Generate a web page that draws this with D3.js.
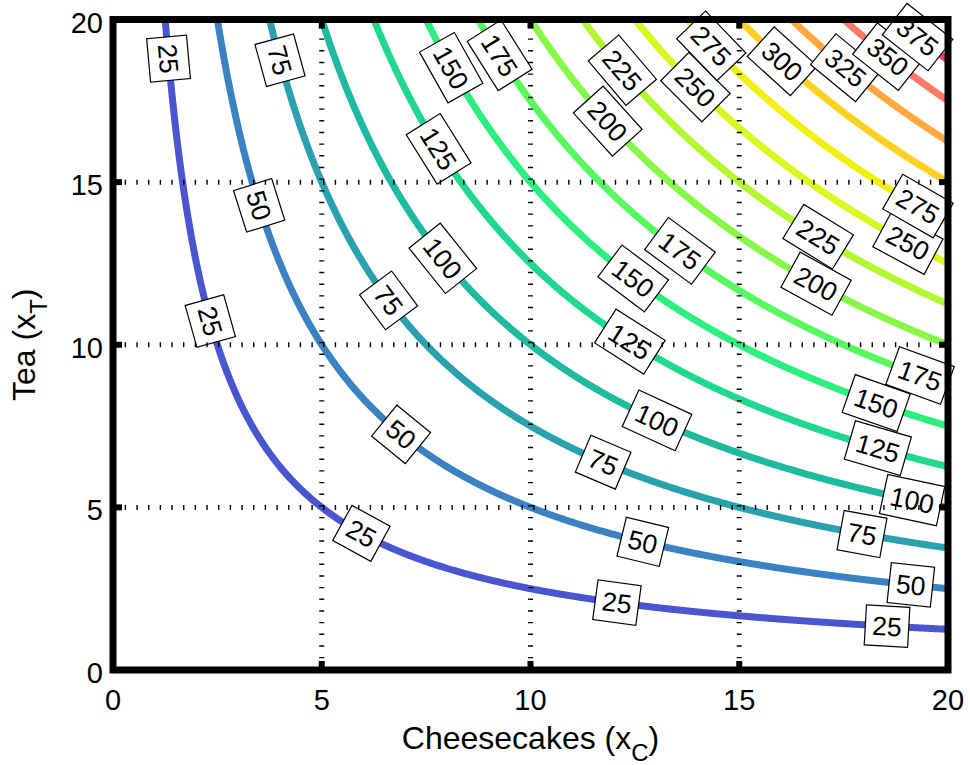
<!DOCTYPE html>
<html>
<head>
<meta charset="utf-8">
<script src="https://cdn.jsdelivr.net/npm/d3@7/dist/d3.min.js"></script>
<style>
    body { margin: 0; background: #fff; }
    text { font-family: "Liberation Sans", Arial, sans-serif; }
</style>
</head>
<body>
<div id="chart" style="width:970px;height:765px;"></div>
<script>

// contour levels of U = xC * xT and the colour of each line
const levels = [25, 50, 75, 100, 125, 150, 175, 200, 225, 250, 275, 300, 325, 350, 375];
const levelColors = ["#4a55d0", "#3a82c2", "#2aa2ae", "#1fbaa0", "#20d890", "#2cef80", "#58f860",
    "#88f848", "#b4f830", "#d8f820", "#f2f010", "#ffd020", "#ffa840", "#ff7868", "#ff3878"];

// x positions (cheesecakes) where each level carries a label
const labelSpots = [
    [1.33, 2.33, 5.95, 12.07, 18.54],
    [3.5, 6.9, 12.69, 19.11],
    [4.0, 6.6, 11.74, 17.94],
    [7.9, 13.03, 19.14],
    [7.8, 12.38, 18.32],
    [8.1, 12.46, 18.28],
    [9.26, 13.58, 19.33],
    [11.85, 16.84],
    [12.2, 16.89],
    [13.95, 19.04],
    [14.33, 19.28],
    [16.03],
    [17.55],
    [18.56],
    [19.27]
];

const xTicks = [0, 5, 10, 15, 20];
const yTicks = [0, 5, 10, 15, 20];
const gridTicks = [5, 10, 15];


class ContourVis {

    constructor(parentElement) {
        this.parentElement = parentElement;
        this.initVis();
    }

    initVis() {
        let vis = this;
        vis.margin = {top: 19.5, right: 22, bottom: 95, left: 113};
        vis.width = 970 - vis.margin.left - vis.margin.right;
        vis.height = 765 - vis.margin.top - vis.margin.bottom;

        vis.svg = d3.select("#" + vis.parentElement).append("svg")
            .attr("width", 970)
            .attr("height", 765)
            .append("g")
            .attr("transform", `translate(${vis.margin.left}, ${vis.margin.top})`);

        vis.x = d3.scaleLinear().domain([0, 20]).range([0, vis.width]);
        vis.y = d3.scaleLinear().domain([0, 20]).range([vis.height, 0]);

        vis.svg.append("clipPath").attr("id", "plotclip")
            .append("rect")
            .attr("width", vis.width)
            .attr("height", vis.height);

        vis.updateVis();
    }

    // iso-curve of level L: xT = L / xC
    curvePoints(L) {
        let xs = d3.range(L / 20, 20, 0.02);
        xs.push(20);
        return xs.map(c => [c, L / c]);
    }

    updateVis() {
        let vis = this;

        let line = d3.line()
            .x(d => vis.x(d[0]))
            .y(d => vis.y(d[1]));

        // contour lines
        vis.svg.append("g")
            .attr("clip-path", "url(#plotclip)")
            .selectAll(".iso")
            .data(levels)
            .enter()
            .append("path")
            .attr("class", "iso")
            .attr("d", d => line(vis.curvePoints(d)))
            .attr("fill", "none")
            .attr("stroke", (d, i) => levelColors[i])
            .attr("stroke-width", 7);

        // contour labels
        let labels = [];
        levels.forEach((L, i) => {
            labelSpots[i].forEach(c => labels.push({level: L, c: c}));
        });

        let lab = vis.svg.append("g")
            .selectAll(".clabel")
            .data(labels)
            .enter()
            .append("g")
            .attr("class", "clabel")
            .attr("transform", d => {
                let px = vis.x(d.c), py = vis.y(d.level / d.c);
                let h = 0.01;
                let dx = vis.x(d.c + h) - px;
                let dy = vis.y(d.level / (d.c + h)) - py;
                let ang = Math.atan2(dy, dx) * 180 / Math.PI;
                return `translate(${px}, ${py}) rotate(${ang})`;
            });

        lab.append("text")
            .text(d => d.level)
            .attr("text-anchor", "middle")
            .attr("y", 9.5)
            .style("font-size", "26.5px")
            .style("fill", "#000");

        lab.each(function () {
            let g = d3.select(this);
            let w = g.select("text").node().getComputedTextLength() + 14;
            g.insert("rect", "text")
                .attr("x", -w / 2)
                .attr("y", -20)
                .attr("width", w)
                .attr("height", 40)
                .attr("fill", "#fff")
                .attr("stroke", "#000")
                .attr("stroke-width", 1.2);
        });

        // dotted grid on top
        let grid = vis.svg.append("g").attr("class", "grid");
        grid.selectAll(".gx")
            .data(gridTicks)
            .enter()
            .append("line")
            .attr("x1", d => vis.x(d)).attr("x2", d => vis.x(d))
            .attr("y1", vis.height).attr("y2", 0)
            .attr("stroke", "#000")
            .attr("stroke-width", 5)
            .attr("stroke-dasharray", "1.4,10.27");
        grid.selectAll(".gy")
            .data(gridTicks)
            .enter()
            .append("line")
            .attr("y1", d => vis.y(d)).attr("y2", d => vis.y(d))
            .attr("x1", 0).attr("x2", vis.width)
            .attr("stroke", "#000")
            .attr("stroke-width", 5)
            .attr("stroke-dasharray", "1.4,10.27");

        // inward ticks on all four sides
        let ticks = vis.svg.append("g").attr("class", "ticks");
        xTicks.forEach(t => {
            [[vis.height, vis.height - 9], [0, 9]].forEach(p => {
                ticks.append("line")
                    .attr("x1", vis.x(t)).attr("x2", vis.x(t))
                    .attr("y1", p[0]).attr("y2", p[1])
                    .attr("stroke", "#000").attr("stroke-width", 6);
            });
        });
        yTicks.forEach(t => {
            [[0, 9], [vis.width, vis.width - 9]].forEach(p => {
                ticks.append("line")
                    .attr("y1", vis.y(t)).attr("y2", vis.y(t))
                    .attr("x1", p[0]).attr("x2", p[1])
                    .attr("stroke", "#000").attr("stroke-width", 6);
            });
        });

        // frame
        vis.svg.append("rect")
            .attr("width", vis.width)
            .attr("height", vis.height)
            .attr("fill", "none")
            .attr("stroke", "#000")
            .attr("stroke-width", 7);

        // tick labels
        vis.svg.append("g")
            .selectAll(".xtl")
            .data(xTicks)
            .enter()
            .append("text")
            .attr("x", d => vis.x(d))
            .attr("y", vis.height + 40)
            .attr("text-anchor", "middle")
            .style("font-size", "29px")
            .text(d => d);

        vis.svg.append("g")
            .selectAll(".ytl")
            .data(yTicks)
            .enter()
            .append("text")
            .attr("x", -10)
            .attr("y", d => vis.y(d) + 13)
            .attr("text-anchor", "end")
            .style("font-size", "29px")
            .text(d => d);

        // axis titles
        let xt = vis.svg.append("text")
            .attr("x", vis.width / 2)
            .attr("y", vis.height + 79)
            .attr("text-anchor", "middle")
            .style("font-size", "32px");
        xt.append("tspan").text("Cheesecakes (x");
        xt.append("tspan").attr("dy", 12).style("font-size", "24px").text("C");
        xt.append("tspan").attr("dy", -12).text(")");

        let yt = vis.svg.append("text")
            .attr("transform", `translate(${35 - vis.margin.left}, ${vis.height / 2}) rotate(-90)`)
            .attr("text-anchor", "middle")
            .style("font-size", "32px");
        yt.append("tspan").text("Tea (x");
        yt.append("tspan").attr("dy", 12).style("font-size", "24px").text("T");
        yt.append("tspan").attr("dy", -12).text(")");
    }
}

let myContourVis = new ContourVis("chart");

</script>
</body>
</html>
